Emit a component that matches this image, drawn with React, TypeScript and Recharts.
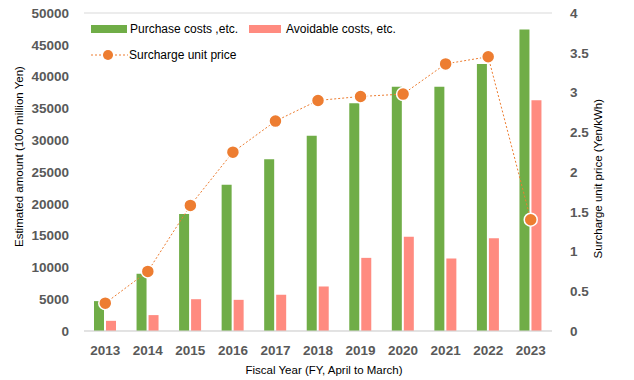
import React from 'react'
import { ComposedChart, Bar, Line, XAxis, YAxis, CartesianGrid } from 'recharts'

// Fiscal years and values
const years = ['2013', '2014', '2015', '2016', '2017', '2018', '2019', '2020', '2021', '2022', '2023']
const purchaseCosts = [4700, 9000, 18400, 23000, 27000, 30700, 35800, 38400, 38400, 42000, 47400]
const avoidableCosts = [1600, 2500, 5000, 4900, 5700, 7000, 11500, 14800, 11400, 14600, 36300]
const surchargePrice = [0.35, 0.75, 1.58, 2.25, 2.64, 2.9, 2.95, 2.98, 3.36, 3.45, 1.4]

const leftTicks = [0, 5000, 10000, 15000, 20000, 25000, 30000, 35000, 40000, 45000, 50000]
const rightTicks = [0, 0.5, 1, 1.5, 2, 2.5, 3, 3.5, 4]

const data = years.map((y, i) => ({
    year: y,
    purchase: purchaseCosts[i],
    avoidable: avoidableCosts[i],
    price: surchargePrice[i],
}))

const GREEN = '#70AD47'
const PINK = '#FF8B80'
const ORANGE = '#ED7D31'
const FONT = '"Liberation Sans", Arial, sans-serif'

const tickStyle = { fill: '#595959', fontSize: 13.5, fontWeight: 700, fontFamily: FONT }
const titleStyle = { fill: '#000', fontSize: 11.5, fontFamily: FONT }

// legend drawn over the plot, like the original (white box hides the grid)
const LegendBox = () => (
    <div style={{ position: 'absolute', left: 84, top: 20, background: '#fff', width: 304, height: 48, fontFamily: FONT, fontSize: 12, color: '#000', whiteSpace: 'nowrap' }}>
        <div style={{ position: 'absolute', left: 7, top: 5, width: 36, height: 8, background: GREEN }} />
        <div style={{ position: 'absolute', left: 46, top: 2, lineHeight: '14px' }}>Purchase costs ,etc.</div>
        <div style={{ position: 'absolute', left: 165, top: 5, width: 32, height: 8, background: PINK }} />
        <div style={{ position: 'absolute', left: 202, top: 2, lineHeight: '14px' }}>Avoidable costs, etc.</div>
        <svg style={{ position: 'absolute', left: 7, top: 29 }} width={38} height={12}>
            <line x1={0} y1={6} x2={37} y2={6} stroke={ORANGE} strokeWidth={1} strokeDasharray="2 2" />
            <circle cx={17} cy={6} r={5} fill={ORANGE} />
        </svg>
        <div style={{ position: 'absolute', left: 45, top: 28, lineHeight: '14px' }}>Surcharge unit price</div>
    </div>
)

const Dot = (props: any) => {
    const { cx, cy } = props
    if (cx == null || cy == null) return null
    return <circle cx={cx} cy={cy} r={6.5} fill={ORANGE} stroke="#fff" strokeWidth={1.5} />
}

export default function App() {
    return (
        <div style={{ position: 'absolute', left: 0, top: 0, width: 634, height: 380, background: '#fff' }}>
            <ComposedChart
                width={634}
                height={380}
                data={data}
                margin={{ top: 13, right: 0, bottom: 0, left: 0 }}
                barGap={2}
            >
                <CartesianGrid vertical={false} stroke="#D9D9D9" />
                <XAxis
                    dataKey="year"
                    height={49}
                    tick={tickStyle}
                    tickLine={false}
                    axisLine={{ stroke: '#D9D9D9' }}
                    tickMargin={8}
                    label={{ value: 'Fiscal Year (FY, April to March)', position: 'insideBottom', offset: 6, dx: 6, ...titleStyle }}
                />
                <YAxis
                    yAxisId="left"
                    width={84}
                    domain={[0, 50000]}
                    ticks={leftTicks}
                    interval={0}
                    tick={tickStyle}
                    tickLine={false}
                    axisLine={false}
                    tickMargin={9}
                    label={{ value: 'Estimated amount (100 million Yen)', angle: -90, position: 'insideLeft', offset: 19, dy: 75, ...titleStyle }}
                />
                <YAxis
                    yAxisId="right"
                    orientation="right"
                    width={82}
                    domain={[0, 4]}
                    ticks={rightTicks}
                    interval={0}
                    tick={tickStyle}
                    tickLine={false}
                    axisLine={false}
                    tickMargin={12}
                    label={{ value: 'Surcharge unit price (Yen/kWh)', angle: -90, position: 'insideRight', offset: 36, dy: -73, ...titleStyle }}
                />
                <Bar yAxisId="left" dataKey="purchase" fill={GREEN} barSize={10} isAnimationActive={false} />
                <Bar yAxisId="left" dataKey="avoidable" fill={PINK} barSize={10} isAnimationActive={false} />
                <Line
                    yAxisId="right"
                    dataKey="price"
                    stroke={ORANGE}
                    strokeWidth={1}
                    strokeDasharray="2 2"
                    dot={<Dot />}
                    activeDot={false}
                    isAnimationActive={false}
                />
            </ComposedChart>
            <LegendBox />
        </div>
    )
}
